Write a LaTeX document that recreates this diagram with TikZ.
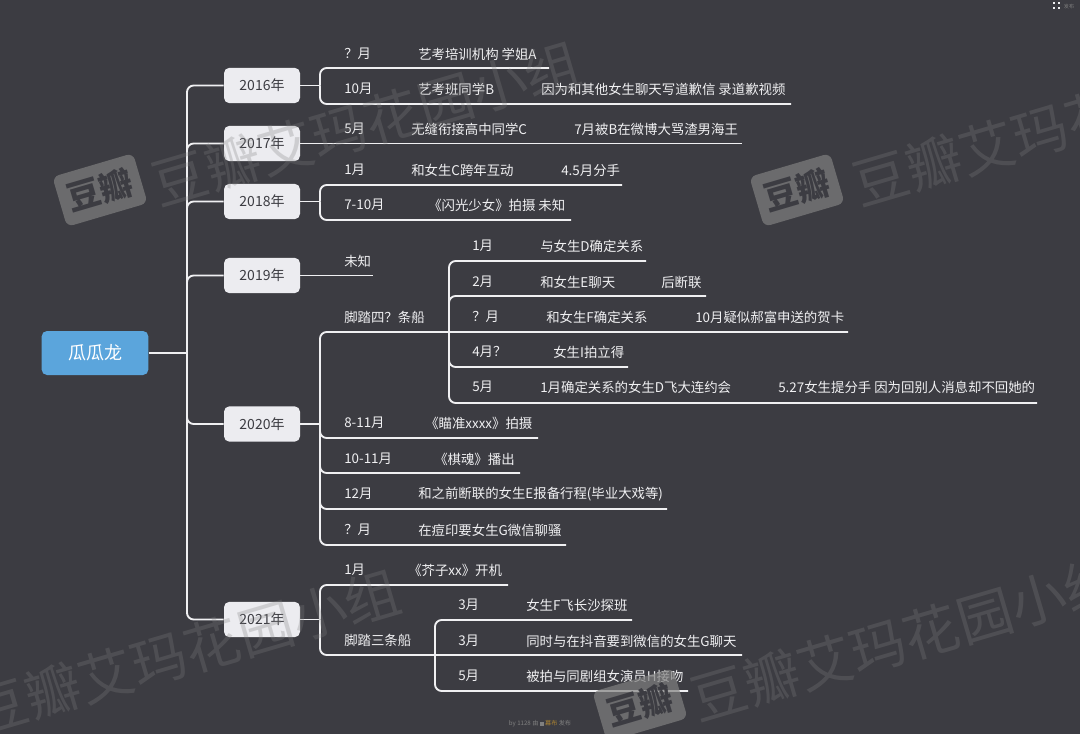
\documentclass[tikz,border=0pt]{standalone}
\usepackage{fontspec}
\setmainfont{Noto Sans CJK SC}
\usetikzlibrary{positioning}
\definecolor{MUBUbg}{RGB}{60,60,66}
\definecolor{MUBUblue}{RGB}{91,165,220}
\definecolor{MUBUbox}{RGB}{236,236,240}
\definecolor{MUBUline}{RGB}{240,240,242}
\definecolor{MUBUgold}{RGB}{170,130,50}
\tikzset{
    rootbox/.style={fill=MUBUblue, rounded corners=4, minimum width=80pt, minimum height=33pt, text=white, font=\fontsize{13.5}{16}\selectfont},
    yearbox/.style={fill=MUBUbox, rounded corners=4, minimum width=57pt, minimum height=26.5pt, text=MUBUbg, font=\fontsize{10.5}{13}\selectfont},
    item/.style={anchor=west, inner sep=0pt, text=MUBUline, font=\fontsize{10.05}{12}\selectfont},
    link/.style={draw=MUBUline, line width=1.4pt, rounded corners=5},
    wmtext/.style={rotate=16.4, text=gray, text opacity=0.28, font=\fontsize{41.5}{46}\selectfont},
    wmlogo/.style={rotate=16.4, fill=gray, fill opacity=0.7, text=MUBUbg, text opacity=1, rounded corners=5, minimum width=63pt, minimum height=39pt, font=\bfseries\fontsize{25}{28}\selectfont}
}

\begin{document}
\begin{tikzpicture}[x=0.75pt, y=-0.75pt]
    \useasboundingbox (0,0) rectangle (1080,734);
    \fill[MUBUbg] (0,0) rectangle (1080,734);

    % Root and years
    \node[rootbox] (root) at (95,353) {瓜瓜龙};
    \node[yearbox] (y2016) at (262,85.5) {2016年};
    \node[yearbox] (y2017) at (262,143.5) {2017年};
    \node[yearbox] (y2018) at (262,201.5) {2018年};
    \node[yearbox] (y2019) at (262,275.5) {2019年};
    \node[yearbox] (y2020) at (262,424) {2020年};
    \node[yearbox] (y2021) at (262,619.5) {2021年};

    % Junctions
    \coordinate (trunk) at (187,353);
    \coordinate (j2016) at (320,85.5);
    \coordinate (j2018) at (320,201.5);
    \coordinate (j2020) at (320,424);
    \coordinate (j2020s) at (449,332);
    \coordinate (j2021) at (320,619.5);
    \coordinate (j2021s) at (435,655);

    % Line ends
    \coordinate (e16a) at (549,68);
    \coordinate (e16b) at (791,104);
    \coordinate (e17a) at (742,143.5);
    \coordinate (e18a) at (622,185);
    \coordinate (e18b) at (571,220);
    \coordinate (e19a) at (373,275.5);
    \coordinate (e20a) at (848,332);
    \coordinate (e20b) at (538,438);
    \coordinate (e20c) at (520,473);
    \coordinate (e20d) at (667,509);
    \coordinate (e20e) at (566,545);
    \coordinate (e20sa) at (646,261);
    \coordinate (e20sb) at (706,296);
    \coordinate (e20sd) at (628,367);
    \coordinate (e20se) at (1037,403);
    \coordinate (e21a) at (508,585);
    \coordinate (e21b) at (742,655);
    \coordinate (e21sa) at (632,620);
    \coordinate (e21sc) at (688,691);

    % Trunk
    \draw[link] (root.east) -- (trunk);
    \foreach \y in {y2016,y2017,y2018,y2019,y2020,y2021} {
        \draw[link] (trunk) |- (\y.west);
    }

    % Branches
    \draw[link] (y2016.east) -- (j2016);
    \draw[link] (j2016) |- (e16a);
    \draw[link] (j2016) |- (e16b);
    \draw[link] (y2017.east) -- (e17a);
    \draw[link] (y2018.east) -- (j2018);
    \draw[link] (j2018) |- (e18a);
    \draw[link] (j2018) |- (e18b);
    \draw[link] (y2019.east) -- (e19a);
    \draw[link] (y2020.east) -- (j2020);
    \draw[link] (j2020) |- (e20a);
    \draw[link] (j2020) |- (e20b);
    \draw[link] (j2020) |- (e20c);
    \draw[link] (j2020) |- (e20d);
    \draw[link] (j2020) |- (e20e);
    \draw[link] (j2020s) |- (e20sa);
    \draw[link] (j2020s) |- (e20sb);
    \draw[link] (j2020s) |- (e20sd);
    \draw[link] (j2020s) |- (e20se);
    \draw[link] (y2021.east) -- (j2021);
    \draw[link] (j2021) |- (e21a);
    \draw[link] (j2021) |- (e21b);
    \draw[link] (j2021s) |- (e21sa);
    \draw[link] (j2021s) |- (e21sc);

    % 2016
    \node[item] (t16a) at (344,54) {？月};
    \node[item] (t16a1) at (418,54) {艺考培训机构 学姐A};
    \node[item] (t16b) at (344,89) {10月};
    \node[item] (t16b1) at (418,89) {艺考班同学B};
    \node[item] (t16b2) at (541,89) {因为和其他女生聊天写道歉信 录道歉视频};
    % 2017
    \node[item] (t17a) at (344,129) {5月};
    \node[item] (t17a1) at (411,129) {无缝衔接高中同学C};
    \node[item] (t17a2) at (574,129) {7月被B在微博大骂渣男海王};
    % 2018
    \node[item] (t18a) at (344,170) {1月};
    \node[item] (t18a1) at (411,170) {和女生C跨年互动};
    \node[item] (t18a2) at (561,170) {4.5月分手};
    \node[item] (t18b) at (344,205) {7-10月};
    \node[item] (t18b1) at (428,205) {《闪光少女》拍摄 未知};
    % 2019
    \node[item] (t19a) at (344,261) {未知};
    % 2020
    \node[item] (t20a) at (344,317) {脚踏四？条船};
    \node[item] (t20sa) at (472,246) {1月};
    \node[item] (t20sa1) at (540,246) {与女生D确定关系};
    \node[item] (t20sb) at (472,282) {2月};
    \node[item] (t20sb1) at (540,282) {和女生E聊天};
    \node[item] (t20sb2) at (661,282) {后断联};
    \node[item] (t20sc) at (472,317) {？月};
    \node[item] (t20sc1) at (546,317) {和女生F确定关系};
    \node[item] (t20sc2) at (695,317) {10月疑似郝富申送的贺卡};
    \node[item] (t20sd) at (472,352) {4月？};
    \node[item] (t20sd1) at (553,352) {女生I拍立得};
    \node[item] (t20se) at (472,387) {5月};
    \node[item] (t20se1) at (540,387) {1月确定关系的女生D飞大连约会};
    \node[item] (t20se2) at (778,387) {5.27女生提分手 因为回别人消息却不回她的};
    \node[item] (t20b) at (344,423) {8-11月};
    \node[item] (t20b1) at (425,423) {《瞄准xxxx》拍摄};
    \node[item] (t20c) at (344,459) {10-11月};
    \node[item] (t20c1) at (434,459) {《棋魂》播出};
    \node[item] (t20d) at (344,494) {12月};
    \node[item] (t20d1) at (418,494) {和之前断联的女生E报备行程(毕业大戏等)};
    \node[item] (t20e) at (344,530) {？月};
    \node[item] (t20e1) at (418,530) {在痘印要女生G微信聊骚};
    % 2021
    \node[item] (t21a) at (344,570) {1月};
    \node[item] (t21a1) at (408,570) {《芥子xx》开机};
    \node[item] (t21b) at (344,640) {脚踏三条船};
    \node[item] (t21sa) at (458,605) {3月};
    \node[item] (t21sa1) at (526,605) {女生F飞长沙探班};
    \node[item] (t21sb) at (458,641) {3月};
    \node[item] (t21sb1) at (526,641) {同时与在抖音要到微信的女生G聊天};
    \node[item] (t21sc) at (458,676) {5月};
    \node[item] (t21sc1) at (526,676) {被拍与同剧组女演员H接吻};

    % Watermarks
    \node[wmlogo] (mark1) at (100,190) {豆瓣};
    \node[wmlogo] (mark2) at (797,190) {豆瓣};
    \node[wmlogo] (mark3) at (640,705) {豆瓣};
    \node[wmtext] (wm1) at (366,124) {豆瓣艾玛花园小组};
    \node[wmtext] (wm2) at (1067,124) {豆瓣艾玛花园小组};
    \node[wmtext] (wm3) at (186,652) {豆瓣艾玛花园小组};
    \node[wmtext] (wm4) at (905,639) {豆瓣艾玛花园小组};

    % Footer
    \node[font=\fontsize{4.6}{6}\selectfont, text=gray] (foot) at (540,724) {by 1128 由 \rule{3pt}{3pt} \textcolor{MUBUgold}{幕布} 发布};
    \node[font=\fontsize{3.8}{5}\selectfont, text=gray] (pub) at (1069,7) {发布};
    \foreach \a in {1052.5,1057.5} \foreach \b in {4,9} {
        \fill[MUBUline] (\a,\b) rectangle +(2,-2);
    }
\end{tikzpicture}
\end{document}
